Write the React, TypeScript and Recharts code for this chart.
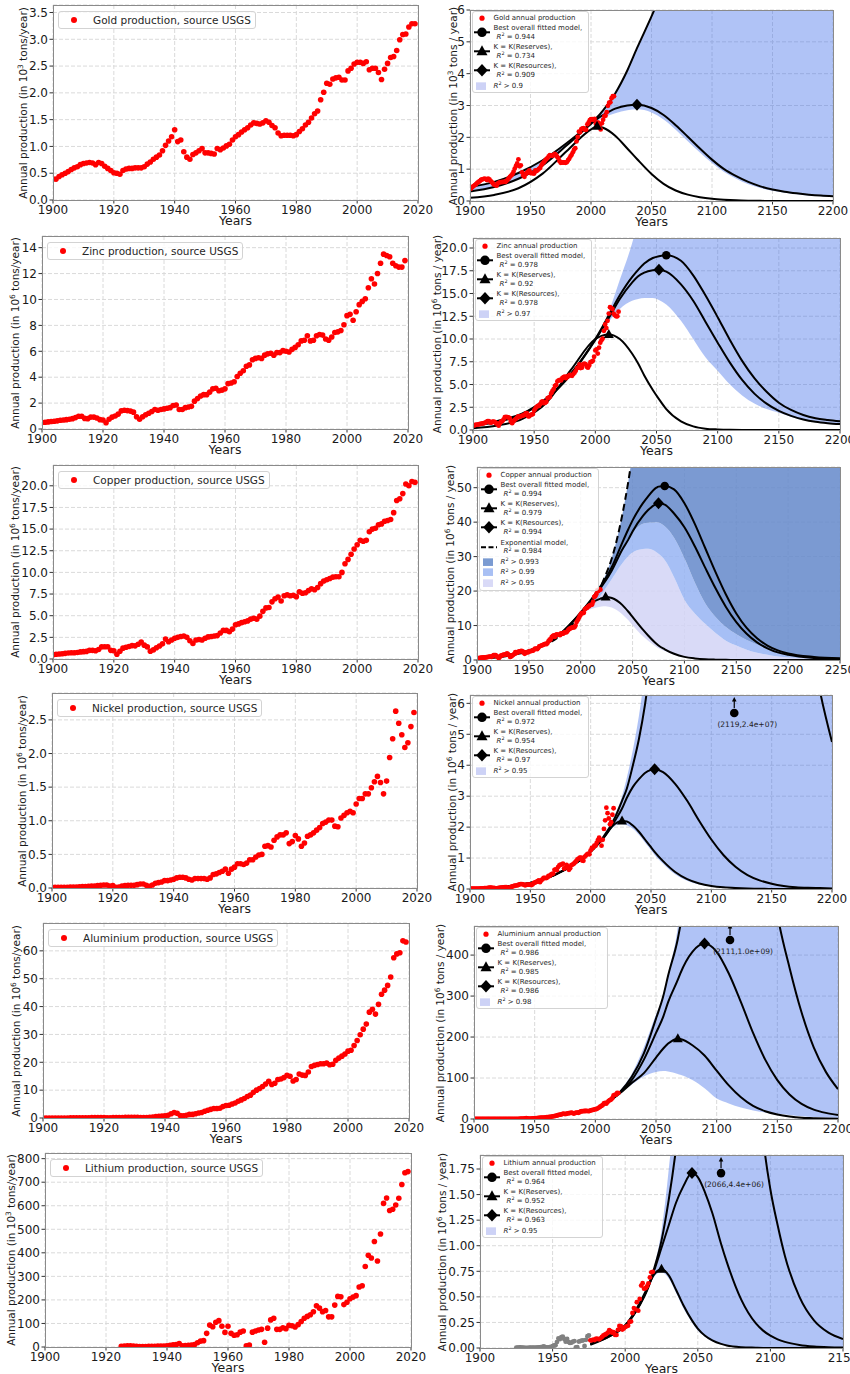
import React from "react";
import { ComposedChart, Scatter, Line, Area, XAxis, YAxis, CartesianGrid } from "recharts";

const FONT = "'DejaVu Sans', sans-serif";
const RED = "#ff0000";
const GREY = "#808080";
const BLUE = "#3a6ae8";

// ---- annual production (USGS) ----
// gold, 1900-2019, 10^3 t
const GOLD = [
  0.39, 0.39, 0.44, 0.47, 0.5, 0.53, 0.57, 0.6, 0.62, 0.66,
  0.68, 0.69, 0.7, 0.69, 0.66, 0.7, 0.68, 0.63, 0.59, 0.55,
  0.51, 0.5, 0.48, 0.55, 0.58, 0.59, 0.59, 0.6, 0.6, 0.6,
  0.62, 0.67, 0.71, 0.76, 0.8, 0.84, 0.92, 1.02, 1.1, 1.18,
  1.31, 1.09, 1.12, 0.9, 0.8, 0.76, 0.85, 0.88, 0.92, 0.96,
  0.88, 0.88, 0.87, 0.86, 0.96, 0.94, 0.97, 1.01, 1.04, 1.12,
  1.18, 1.22, 1.27, 1.31, 1.35, 1.4, 1.44, 1.43, 1.42, 1.44,
  1.48, 1.45, 1.39, 1.35, 1.25, 1.2, 1.21, 1.21, 1.21, 1.2,
  1.22, 1.28, 1.33, 1.4, 1.45, 1.53, 1.61, 1.66, 1.87, 2.01,
  2.18, 2.16, 2.26, 2.28, 2.29, 2.24, 2.24, 2.41, 2.46, 2.54,
  2.57, 2.57, 2.55, 2.58, 2.43, 2.46, 2.46, 2.38, 2.25, 2.44,
  2.55, 2.66, 2.68, 2.79, 2.99, 3.09, 3.1, 3.23, 3.29, 3.29,
];
// zinc, 1900-2019, 10^6 t
const ZINC = [
  0.5, 0.52, 0.55, 0.58, 0.6, 0.63, 0.67, 0.7, 0.72, 0.75,
  0.8, 0.88, 0.98, 0.98, 0.82, 0.8, 0.92, 0.92, 0.85, 0.72,
  0.7, 0.48, 0.75, 0.92, 1.0, 1.15, 1.4, 1.45, 1.42, 1.38,
  1.3, 0.95, 0.75, 0.95, 1.1, 1.22, 1.35, 1.5, 1.45, 1.5,
  1.55, 1.6, 1.65, 1.82, 1.85, 1.5, 1.5, 1.65, 1.7, 1.75,
  2.15, 2.35, 2.55, 2.65, 2.65, 2.85, 3.1, 3.15, 2.95, 3.0,
  3.1, 3.5, 3.55, 3.65, 4.05, 4.3, 4.5, 4.85, 4.95, 5.35,
  5.45, 5.5, 5.45, 5.7, 5.8, 5.85, 5.7, 5.9, 5.9, 6.05,
  6.0, 5.95, 6.15, 6.3, 6.5, 6.8, 6.85, 7.2, 6.8, 6.85,
  7.2, 7.3, 7.25, 6.95, 6.85, 7.1, 7.45, 7.5, 7.6, 8.05,
  8.75, 8.85, 8.4, 9.05, 9.6, 9.85, 10.05, 10.9, 11.6, 11.2,
  12.0, 12.8, 13.5, 13.4, 13.3, 12.8, 12.6, 12.5, 12.5, 13.0,
];
// copper, 1900-2019, 10^6 t
const COPPER = [
  0.5, 0.55, 0.57, 0.6, 0.65, 0.7, 0.72, 0.72, 0.75, 0.82,
  0.85, 0.88, 1.0, 1.0, 0.95, 1.1, 1.4, 1.42, 1.42, 1.0,
  0.95, 0.55, 0.9, 1.25, 1.35, 1.45, 1.55, 1.52, 1.7, 1.95,
  1.6, 1.4, 0.9, 1.05, 1.3, 1.5, 1.75, 2.3, 2.0, 2.2,
  2.4, 2.5, 2.6, 2.65, 2.5, 2.1, 1.8, 2.2, 2.25, 2.2,
  2.4, 2.55, 2.6, 2.65, 2.7, 3.0, 3.3, 3.3, 3.15, 3.45,
  3.95, 4.05, 4.2, 4.3, 4.4, 4.6, 4.7, 4.6, 4.95, 5.5,
  5.9, 5.95, 6.6, 6.95, 7.15, 6.7, 7.3, 7.4, 7.3, 7.35,
  7.2, 7.75, 7.6, 7.65, 7.9, 8.1, 8.0, 8.25, 8.7, 9.0,
  9.15, 9.3, 9.45, 9.5, 9.5, 10.0, 11.0, 11.5, 12.1, 12.7,
  13.2, 13.7, 13.6, 13.7, 14.7, 15.0, 15.1, 15.5, 15.6, 15.9,
  16.0, 16.1, 16.9, 18.3, 18.5, 19.1, 20.2, 20.0, 20.5, 20.4,
];
// nickel, 1900-2019, 10^6 t
const NICKEL = [
  0.01, 0.01, 0.01, 0.01, 0.01, 0.012, 0.014, 0.015, 0.015, 0.017,
  0.02, 0.023, 0.025, 0.03, 0.03, 0.035, 0.04, 0.045, 0.045, 0.03,
  0.035, 0.01, 0.015, 0.03, 0.035, 0.04, 0.04, 0.04, 0.05, 0.06,
  0.06, 0.04, 0.025, 0.045, 0.07, 0.08, 0.09, 0.11, 0.11, 0.12,
  0.13, 0.15, 0.16, 0.16, 0.15, 0.13, 0.12, 0.14, 0.14, 0.14,
  0.14, 0.13, 0.15, 0.2, 0.21, 0.23, 0.25, 0.28, 0.22, 0.28,
  0.31, 0.36, 0.36, 0.35, 0.37, 0.42, 0.42, 0.46, 0.49, 0.5,
  0.62, 0.63, 0.61, 0.71, 0.76, 0.79, 0.79, 0.82, 0.66, 0.69,
  0.78, 0.73, 0.62, 0.67, 0.77, 0.79, 0.82, 0.86, 0.9, 0.96,
  0.98, 1.01, 1.01, 0.92, 0.91, 1.04, 1.08, 1.12, 1.14, 1.12,
  1.25, 1.33, 1.33, 1.4, 1.4, 1.49, 1.58, 1.66, 1.57, 1.4,
  1.59, 1.94, 2.22, 2.63, 2.45, 2.28, 2.09, 2.16, 2.4, 2.61,
];
// aluminium, 1900-2019, 10^6 t
const ALUMINIUM = [
  0.01, 0.01, 0.01, 0.01, 0.01, 0.02, 0.02, 0.02, 0.02, 0.03,
  0.04, 0.05, 0.06, 0.07, 0.07, 0.08, 0.12, 0.14, 0.14, 0.13,
  0.13, 0.08, 0.09, 0.13, 0.16, 0.18, 0.2, 0.21, 0.25, 0.28,
  0.27, 0.22, 0.15, 0.14, 0.17, 0.26, 0.37, 0.49, 0.58, 0.7,
  0.78, 1.0, 1.5, 2.0, 1.7, 0.9, 0.8, 1.0, 1.3, 1.3,
  1.5, 1.8, 2.0, 2.4, 2.8, 3.1, 3.4, 3.4, 3.5, 4.1,
  4.5, 4.6, 5.0, 5.4, 6.0, 6.5, 7.0, 7.7, 8.2, 9.2,
  10.0, 10.6, 11.3, 12.2, 13.2, 12.0, 12.5, 13.8, 14.0, 14.5,
  15.3, 15.0, 13.3, 13.8, 15.8, 15.4, 15.3, 16.5, 18.5, 18.9,
  19.2, 19.5, 19.5, 19.7, 19.1, 19.3, 20.7, 21.5, 22.2, 23.0,
  24.0, 24.3, 26.0, 27.8, 29.9, 31.9, 33.7, 38.0, 39.0, 37.3,
  40.8, 44.4, 45.9, 47.6, 50.6, 57.5, 58.9, 59.3, 63.6, 63.2,
];
// lithium, 1925-2019, 10^3 t
const LITHIUM_FROM = 1925;
const LITHIUM = [
  3, 4, 5, 5, 4,
  3, 2, 2, 2, 3, 3, 3, 4, 4, 4,
  5, 7, 9, 10, 15, 5, 6, 7, 8, 10,
  18, 25, 27, 58, 93, 86, 105, 112, 88, 62,
  88, 58, 50, 52, 63, 68, 5, 8, 63, 68,
  72, 75, 20, 80, 115, 122, 75, 75, 82, 78,
  92, 90, 85, 95, 108, 122, 130, 137, 150, 175,
  165, 150, 155, 128, 128, 178, 215, 213, 180, 190,
  205, 212, 218, 255, 260, 342, 390, 378, 448, 365,
  480, 610, 633, 580, 585, 603, 632, 690, 740, 745,
];
const LITHIUM_GREY_UNTIL = 1975;

// ---- fitted models ----
const GOLD_FIT_YEARS = [1900, 1920, 1940, 1960, 1980, 2000, 2005, 2010, 2020, 2030, 2038, 2050, 2060, 2070, 2080, 2090, 2100, 2110, 2120, 2130, 2140, 2150, 2160, 2170, 2180, 2190, 2200];
const GOLD_BEST = [0.44, 0.6, 0.88, 1.28, 1.82, 2.45, 2.63, 2.85, 3.38, 4.1, 4.8, 5.8, 6.7, 7.7, 8.7, null, null, null, null, null, null, null, null, null, null, null, null];
const GOLD_RESOURCES = [0.3, 0.44, 0.7, 1.12, 1.75, 2.42, 2.58, 2.7, 2.9, 3.0, 3.02, 2.92, 2.7, 2.38, 2.02, 1.65, 1.3, 1.0, 0.78, 0.6, 0.46, 0.36, 0.29, 0.24, 0.2, 0.17, 0.15];
const GOLD_RESERVES = [0.1, 0.19, 0.4, 0.86, 1.57, 2.25, 2.35, 2.3, 2.05, 1.65, 1.32, 0.85, 0.54, 0.33, 0.2, 0.12, 0.07, 0.04, 0.02, 0.01, 0.005, 0, 0, 0, 0, 0, 0];
const GOLD_BAND_LOW = [0.3, 0.44, 0.7, 1.12, 1.75, 2.4, 2.52, 2.62, 2.76, 2.85, 2.88, 2.78, 2.56, 2.24, 1.88, 1.52, 1.19, 0.91, 0.7, 0.53, 0.41, 0.32, 0.26, 0.21, 0.17, 0.15, 0.13];
const GOLD_BAND_HIGH = [0.44, 0.6, 0.88, 1.28, 1.82, 2.45, 2.63, 2.85, 3.38, 4.1, 4.8, 5.8, 6.7, 7.7, 8.7, 20, 20, 20, 20, 20, 20, 20, 20, 20, 20, 20, 20];

const ZINC_FIT_YEARS = [1900, 1920, 1940, 1960, 1980, 2000, 2011, 2020, 2030, 2035, 2040, 2047, 2052, 2058, 2070, 2080, 2090, 2100, 2110, 2120, 2130, 2140, 2150, 2160, 2170, 2180, 2190, 2200];
const ZINC_BEST = [0.5, 1.0, 1.8, 3.5, 6.2, 10.0, 12.6, 14.8, 16.8, 17.6, 18.3, 18.9, 19.1, 19.2, 18.6, 17.0, 14.8, 12.4, 9.9, 7.6, 5.7, 4.2, 3.0, 2.2, 1.65, 1.3, 1.1, 0.95];
const ZINC_RESOURCES = [0.45, 0.9, 1.7, 3.4, 6.1, 9.9, 12.3, 14.4, 16.2, 16.9, 17.3, 17.55, 17.6, 17.4, 16.0, 14.2, 11.9, 9.6, 7.4, 5.5, 4.0, 2.9, 2.1, 1.55, 1.15, 0.9, 0.75, 0.65];
const ZINC_RESERVES = [0.2, 0.5, 1.2, 3.0, 6.6, 10.0, 10.5, 10.0, 8.4, 7.3, 6.0, 4.4, 3.4, 2.3, 0.95, 0.4, 0.15, 0.06, 0.02, 0.01, 0, 0, 0, 0, 0, 0, 0, 0];
const ZINC_BAND_LOW = [0.45, 0.9, 1.7, 3.4, 6.1, 9.8, 11.9, 13.3, 14.2, 14.4, 14.5, 14.5, 14.3, 13.8, 12.0, 10.0, 8.0, 6.5, 5.0, 3.8, 2.9, 2.3, 1.9, 1.45, 1.1, 0.85, 0.7, 0.6];
const ZINC_BAND_HIGH = [0.5, 1.0, 1.8, 3.5, 6.2, 10.0, 13.0, 16.5, 20.5, 23, 26, 40, 40, 40, 40, 40, 40, 40, 40, 40, 40, 40, 40, 40, 40, 40, 40, 40];

const COPPER_FIT_YEARS = [1900, 1920, 1940, 1960, 1980, 2000, 2010, 2020, 2024, 2030, 2040, 2046, 2050, 2060, 2065, 2073, 2075, 2081, 2090, 2100, 2110, 2120, 2130, 2140, 2150, 2160, 2170, 2180, 2190, 2200, 2225, 2250];
const COPPER_EXPO = [0.45, 0.95, 1.9, 3.7, 7.0, 13.0, 16.8, 21.8, 24.6, 29.5, 42, 52, 60, 85, null, null, null, null, null, null, null, null, null, null, null, null, null, null, null, null, null, null];
const COPPER_BEST = [0.5, 1.0, 2.0, 3.8, 7.5, 13.8, 17.5, 21.8, 23.7, 27, 34, 38, 40.5, 45.5, 47.5, 50, 50.3, 50.5, 49.5, 45.5, 39.5, 32.5, 25.5, 19, 13.5, 9.3, 6.3, 4.2, 2.8, 1.9, 0.9, 0.5];
const COPPER_RESOURCES = [0.5, 1.0, 2.0, 3.8, 7.5, 13.6, 17.2, 21.3, 23.0, 26, 32, 35, 37.3, 41.8, 43.5, 45.3, 45.5, 45.1, 42.5, 38.5, 33, 26.8, 20.8, 15.4, 11, 7.6, 5.1, 3.4, 2.2, 1.5, 0.6, 0.3];
const COPPER_RESERVES = [0.3, 0.8, 1.8, 3.6, 7.5, 13.5, 16.5, 17.9, 18.3, 18.0, 16.0, 14.0, 12.5, 8.8, 7.1, 4.7, 4.2, 3.1, 1.8, 0.9, 0.45, 0.2, 0.1, 0.05, 0.02, 0, 0, 0, 0, 0, 0, 0];
const COPPER_LOW_95 = [0.5, 1.0, 2.0, 3.8, 7.5, 13.3, 14.8, 15.5, 15.6, 15.2, 13.3, 11.5, 10.1, 6.9, 5.6, 3.8, 3.4, 2.6, 1.5, 0.75, 0.35, 0.15, 0.06, 0.02, 0.01, 0, 0, 0, 0, 0, 0, 0];
const COPPER_LOW_99 = [0.5, 1.0, 2.0, 3.8, 7.5, 13.5, 15.5, 19, 20.8, 23.5, 28, 30.2, 31.2, 32.2, 32.3, 31.3, 30.8, 29, 24, 17.5, 13.5, 10.5, 7.8, 5.6, 4.2, 3.0, 2.1, 1.5, 1.0, 0.7, 0.3, 0.15];
const COPPER_LOW_993 = [0.5, 1.0, 2.0, 3.8, 7.5, 13.6, 16.2, 20.5, 22.5, 26, 32, 35.3, 37, 39.5, 39.8, 40, 39.9, 38.8, 35.5, 29.5, 22.5, 16.5, 12.5, 9.6, 7.5, 5.8, 4.5, 3.2, 2.1, 1.4, 0.55, 0.28];
const COPPER_HIGH = [0.5, 1.0, 2.0, 3.8, 7.5, 13.8, 17.5, 22, 24.7, 29.7, 42, 52, 60, 85, 100, 100, 100, 100, 100, 100, 100, 100, 100, 100, 100, 100, 100, 100, 100, 100, 100, 100];

const NICKEL_FIT_YEARS = [1900, 1920, 1940, 1960, 1980, 1990, 2000, 2010, 2020, 2026, 2030, 2035, 2040, 2045, 2050, 2053, 2060, 2070, 2080, 2090, 2100, 2110, 2120, 2130, 2140, 2150, 2160, 2170, 2180, 2190, 2200];
const NICKEL_BEST = [0.02, 0.05, 0.12, 0.3, 0.65, 0.9, 1.22, 1.65, 2.3, 2.85, 3.25, 4.0, 4.85, 5.95, 7.4, 8.2, 10.5, 14.5, 18, 21, 23, 23.8, 23.7, 22, 19.5, 17, 14, 11, 8.6, 6.4, 4.75];
const NICKEL_RESOURCES = [0.02, 0.05, 0.13, 0.3, 0.65, 0.9, 1.22, 1.62, 2.2, 2.6, 2.95, 3.3, 3.55, 3.75, 3.85, 3.87, 3.78, 3.4, 2.85, 2.2, 1.6, 1.1, 0.72, 0.45, 0.28, 0.17, 0.1, 0.06, 0.04, 0.03, 0.02];
const NICKEL_RESERVES = [0.02, 0.05, 0.13, 0.3, 0.65, 0.9, 1.2, 1.62, 2.1, 2.2, 2.18, 2.05, 1.85, 1.6, 1.35, 1.2, 0.9, 0.55, 0.32, 0.18, 0.1, 0.055, 0.03, 0.015, 0.01, 0, 0, 0, 0, 0, 0];
const NICKEL_BAND_LOW = [0.02, 0.05, 0.12, 0.3, 0.64, 0.88, 1.2, 1.6, 2.04, 2.1, 2.06, 1.95, 1.75, 1.5, 1.25, 1.1, 0.82, 0.48, 0.27, 0.15, 0.085, 0.045, 0.025, 0.012, 0.008, 0.005, 0, 0, 0, 0, 0];
const NICKEL_BAND_HIGH = [0.02, 0.05, 0.13, 0.3, 0.66, 0.92, 1.25, 1.7, 2.4, 3.0, 3.6, 4.5, 5.6, 7.0, 8.5, 30, 30, 30, 30, 30, 30, 30, 30, 30, 30, 30, 30, 30, 30, 30, 30];

const ALUMINIUM_FIT_YEARS = [1900, 1920, 1940, 1960, 1980, 2000, 2010, 2020, 2030, 2040, 2050, 2056, 2060, 2068, 2070, 2080, 2090, 2100, 2110, 2120, 2130, 2140, 2150, 2160, 2170, 2180, 2190, 2200];
const ALUMINIUM_BEST = [0.3, 0.5, 1, 4, 15, 25, 40, 65, 103, 160, 245, 300, 350, 440, 471, 640, 820, 950, 1000, 960, 860, 710, 500, 370, 260, 175, 115, 73];
const ALUMINIUM_RESOURCES = [0.3, 0.5, 1, 4, 15, 25, 40, 65, 95, 145, 210, 250, 285, 340, 355, 408, 428, 408, 355, 285, 210, 145, 95, 60, 37, 23, 15, 10];
const ALUMINIUM_RESERVES = [0.3, 0.5, 1, 4, 15, 25, 40, 62, 88, 112, 150, 172, 184, 196, 195, 180, 155, 118, 82, 53, 32, 19, 11, 6, 3, 2, 1, 0.5];
const ALUMINIUM_BAND_LOW = [0.3, 0.5, 1, 4, 15, 24, 38, 62, 84, 104, 115, 117, 116, 110, 108, 95, 75, 50, 38, 28, 21, 16, 13, 10, 7, 5, 3.5, 2.5];
const ALUMINIUM_BAND_HIGH = [0.3, 0.5, 1, 4, 15, 25, 41, 68, 110, 175, 255, 300, 355, 470, 520, 1500, 1500, 1500, 1500, 1500, 1500, 1500, 1500, 1500, 1500, 1500, 1500, 1500];

const LITHIUM_FIT_YEARS = [1976, 1990, 2000, 2010, 2015, 2020, 2025, 2030, 2035, 2040, 2046, 2050, 2055, 2060, 2066, 2070, 2080, 2090, 2095, 2100, 2105, 2110, 2120, 2130, 2140, 2150];
const LITHIUM_BEST = [0.04, 0.13, 0.22, 0.42, 0.57, 0.78, 1.05, 1.45, 1.95, 2.6, 3.3, 3.7, 4.1, 4.35, 4.4, 4.35, 3.8, 2.9, 2.05, 1.55, 1.2, 0.9, 0.5, 0.27, 0.15, 0.088];
const LITHIUM_RESOURCES = [0.04, 0.12, 0.22, 0.42, 0.56, 0.76, 0.98, 1.2, 1.42, 1.58, 1.71, 1.67, 1.52, 1.32, 1.02, 0.84, 0.47, 0.24, 0.17, 0.12, 0.085, 0.06, 0.03, 0.015, 0.008, 0.005];
const LITHIUM_RESERVES = [0.03, 0.12, 0.22, 0.44, 0.58, 0.72, 0.77, 0.71, 0.57, 0.42, 0.27, 0.19, 0.12, 0.075, 0.04, 0.025, 0.008, 0.003, 0.001, 0, 0, 0, 0, 0, 0, 0];
const LITHIUM_BAND_LOW = [0.03, 0.12, 0.21, 0.42, 0.55, 0.7, 0.74, 0.68, 0.54, 0.39, 0.25, 0.17, 0.11, 0.065, 0.035, 0.02, 0.007, 0.002, 0, 0, 0, 0, 0, 0, 0, 0];
const LITHIUM_BAND_HIGH = [0.04, 0.13, 0.23, 0.44, 0.6, 0.8, 1.15, 1.75, 2.6, 5, 5, 5, 5, 5, 5, 5, 5, 5, 5, 5, 5, 5, 5, 5, 5, 5];

// peaks of the models [year, value] and off-scale best-fit notes
const GOLD_PEAKS = { reserves: [2005, 2.35], resources: [2038, 3.02] };
const ZINC_PEAKS = { best: [2058, 19.2], reserves: [2011, 10.5], resources: [2052, 17.6] };
const COPPER_PEAKS = { best: [2081, 50.5], reserves: [2024, 18.3], resources: [2075, 45.5] };
const NICKEL_PEAKS = { reserves: [2026, 2.2], resources: [2053, 3.87] };
const ALUMINIUM_PEAKS = { reserves: [2068, 196], resources: [2090, 428] };
const LITHIUM_PEAKS = { reserves: [2025, 0.77], resources: [2046, 1.71] };
const NICKEL_NOTE = { x: 2119, y: 5.69, label: "(2119,2.4e+07)" };
const ALUMINIUM_NOTE = { x: 2111, y: 437, label: "(2111,1.0e+09)" };
const LITHIUM_NOTE = { x: 2066, y: 1.71, label: "(2066,4.4e+06)" };

// R^2: best, reserves, resources
const GOLD_R2 = ["0.944", "0.734", "0.909"];
const ZINC_R2 = ["0.978", "0.92", "0.978"];
const COPPER_R2 = ["0.994", "0.979", "0.994"];
const COPPER_EXPO_R2 = "0.984";
const NICKEL_R2 = ["0.972", "0.954", "0.97"];
const ALUMINIUM_R2 = ["0.986", "0.985", "0.986"];
const LITHIUM_R2 = ["0.964", "0.952", "0.963"];

const LEFT_X = [1900, 1920, 1940, 1960, 1980, 2000, 2020];
const RIGHT_X = [1900, 1950, 2000, 2050, 2100, 2150, 2200];

type Box = { x0: number; x1: number; y0: number; y1: number };

const toPoints = (values: number[], from: number, div = 1) =>
  values.map((v, i) => ({ x: from + i, y: v / div }));

function buildRows(years: number[], cols: Record<string, (number | null)[]>, bands: Record<string, [(number | null)[], (number | null)[]]>) {
  return years.map((x, i) => {
    const row: any = { x };
    for (const k in cols) if (cols[k][i] != null) row[k] = cols[k][i];
    for (const k in bands) {
      const lo = bands[k][0][i];
      const hi = bands[k][1][i];
      if (lo != null && hi != null) row[k] = [lo, hi];
    }
    return row;
  });
}

const tickStyle = { fontSize: 12, fill: "#1a1a1a", fontFamily: FONT };
const f1 = (v: number) => v.toFixed(1);
const f2 = (v: number) => v.toFixed(2);
const f0 = (v: number) => String(v);
const range = (a: number, b: number, s: number) => {
  const out: number[] = [];
  for (let v = a; v <= b + 1e-9; v += s) out.push(Math.round(v * 100) / 100);
  return out;
};

const dot = (r: number, fill: string) => (p: any) => <circle cx={p.cx} cy={p.cy} r={r} fill={fill} />;

function Glyph({ kind, cx, cy, s = 1 }: { kind: string; cx: number; cy: number; s?: number }) {
  if (kind === "circle") return <circle cx={cx} cy={cy} r={4.3 * s} fill="#000" />;
  if (kind === "triangle")
    return <polygon points={`${cx},${cy - 5.5 * s} ${cx - 5 * s},${cy + 3.5 * s} ${cx + 5 * s},${cy + 3.5 * s}`} fill="#000" />;
  return <polygon points={`${cx},${cy - 6 * s} ${cx + 5.5 * s},${cy} ${cx},${cy + 6 * s} ${cx - 5.5 * s},${cy}`} fill="#000" />;
}

const glyphShape = (kind: string) => (p: any) => <Glyph kind={kind} cx={p.cx} cy={p.cy} />;

const noteShape = (p: any) => (
  <g>
    <line x1={p.cx} y1={p.cy - 5} x2={p.cx} y2={p.cy - 12} stroke="#000" strokeWidth={1.2} />
    <polygon points={`${p.cx},${p.cy - 16} ${p.cx - 2.3},${p.cy - 11.5} ${p.cx + 2.3},${p.cy - 11.5}`} fill="#000" />
    <circle cx={p.cx} cy={p.cy} r={4.3} fill="#000" />
    <text x={p.cx + 13} y={p.cy + 14} textAnchor="middle" fontSize={7.5} fontFamily={FONT} fill="#222">
      {p.payload.label}
    </text>
  </g>
);

const R2 = () => (
  <>
    <i>R</i>
    <span style={{ fontSize: "0.7em", position: "relative", top: "-0.45em" }}>2</span>
  </>
);

function Panel(props: {
  box: Box; xMax: number; xTicks: number[]; yMax: number; yTicks: number[]; yFmt: (v: number) => string;
  rows?: any[]; yLabel: React.ReactNode; labelX: number; legend: React.ReactNode; children: React.ReactNode;
}) {
  const { box } = props;
  const left = box.x0 - 60;
  const top = box.y0 - 10;
  const width = box.x1 - left + 20;
  const height = box.y1 - top + 40;
  return (
    <>
      <div style={{ position: "absolute", left, top }}>
        <ComposedChart width={width} height={height} data={props.rows} margin={{ top: 10, right: 20, bottom: 10, left: 0 }}>
          <CartesianGrid stroke="#dadada" strokeDasharray="4 2" />
          <XAxis type="number" dataKey="x" domain={[1900, props.xMax]} ticks={props.xTicks} interval={0} allowDataOverflow
            height={30} tick={tickStyle} tickSize={3.5} tickMargin={1.5} tickLine={{ stroke: "#333" }} axisLine={false} />
          <YAxis type="number" dataKey="y" domain={[0, props.yMax]} ticks={props.yTicks} interval={0} allowDataOverflow
            width={60} tick={tickStyle} tickSize={3.5} tickMargin={1.5} tickLine={{ stroke: "#333" }} axisLine={false}
            tickFormatter={props.yFmt} />
          {props.children}
        </ComposedChart>
      </div>
      <div style={{ position: "absolute", left: box.x0, top: box.y0, width: box.x1 - box.x0 + 1, height: box.y1 - box.y0 + 1,
        boxSizing: "border-box", border: "1px solid #8a8a8a", pointerEvents: "none" }} />
      <div style={{ position: "absolute", left: (box.x0 + box.x1) / 2, top: box.y1 + 14, transform: "translateX(-50%)",
        fontSize: 12.5, lineHeight: "14px", color: "#1a1a1a" }}>Years</div>
      <div style={{ position: "absolute", left: props.labelX, top: (box.y0 + box.y1) / 2, whiteSpace: "nowrap",
        transform: "translate(-50%, -50%) rotate(-90deg)", fontSize: 10.5, lineHeight: "12px", color: "#1a1a1a" }}>
        {props.yLabel}
      </div>
      {props.legend}
    </>
  );
}

function SourceLegend({ left, top, text }: { left: number; top: number; text: string }) {
  return (
    <div style={{ position: "absolute", left, top, height: 18, boxSizing: "border-box", border: "1px solid #d3d3d3",
      borderRadius: 3, background: "rgba(255,255,255,0.8)", display: "flex", alignItems: "center", paddingRight: 4,
      fontSize: 10.5, color: "#262626", whiteSpace: "nowrap" }}>
      <svg width={34} height={16} style={{ flex: "none" }}><circle cx={15} cy={8} r={3} fill={RED} /></svg>
      <span>{text}</span>
    </div>
  );
}

function SourceChart(p: { box: Box; values: number[]; from: number; yMax: number; yTicks: number[]; yFmt: (v: number) => string;
  exp: number; labelX: number; name: string }) {
  return (
    <Panel box={p.box} xMax={2020} xTicks={LEFT_X} yMax={p.yMax} yTicks={p.yTicks} yFmt={p.yFmt} labelX={p.labelX}
      yLabel={<>Annual production (in 10<sup style={{ fontSize: "0.7em" }}>{p.exp}</sup> tons/year)</>}
      legend={<SourceLegend left={p.box.x0 + 5} top={p.box.y0 + 5.5} text={`${p.name} production, source USGS`} />}>
      <Scatter data={toPoints(p.values, p.from)} isAnimationActive={false} shape={dot(2.8, RED)} />
    </Panel>
  );
}

type LegendRow = { icon: (cy: number) => React.ReactNode; lines: React.ReactNode[] };
const LH = 8.3;

function FitLegend({ left, top, rows }: { left: number; top: number; rows: LegendRow[] }) {
  return (
    <div style={{ position: "absolute", left, top, boxSizing: "border-box", border: "1px solid #d3d3d3", borderRadius: 3,
      background: "rgba(255,255,255,0.8)", padding: "1.5px 6px 2.5px 0", fontSize: 7, lineHeight: `${LH}px`,
      color: "#262626", whiteSpace: "nowrap" }}>
      {rows.map((r, i) => (
        <div key={i} style={{ display: "flex", alignItems: "center", marginTop: i ? 2.5 : 0 }}>
          <svg width={21} height={r.lines.length * LH} style={{ flex: "none", overflow: "visible" }}>
            {r.icon((r.lines.length * LH) / 2)}
          </svg>
          <div>
            {r.lines.map((l, j) => (
              <div key={j} style={{ paddingLeft: j ? 3 : 0 }}>{l}</div>
            ))}
          </div>
        </div>
      ))}
    </div>
  );
}

const lineIcon = (kind: string | null, dashed = false) => (cy: number) => (
  <>
    <line x1={1} x2={17} y1={cy} y2={cy} stroke="#000" strokeWidth={2} strokeDasharray={dashed ? "5 2.5" : undefined} />
    {kind && <Glyph kind={kind} cx={9} cy={cy} s={kind === "diamond" ? 1.05 : 1.1} />}
  </>
);
const patchIcon = (fill: string) => (cy: number) => <rect x={3} y={cy - 3.8} width={10} height={7.6} fill={fill} />;

type BandSpec = { key: string; fill: string; opacity: number; patch: string; label: string };

function FitChart(p: {
  box: Box; xMax: number; xTicks: number[]; yMax: number; yTicks: number[]; yFmt: (v: number) => string; exp: number;
  labelX: number; name: string; rows: any[]; points: { x: number; y: number }[]; grey?: { x: number; y: number }[];
  bands: BandSpec[]; expo?: string; peaks: { best?: number[]; reserves: number[]; resources: number[] };
  note?: { x: number; y: number; label: string }; r2: string[];
}) {
  const kids: React.ReactNode[] = [];
  p.bands.forEach((b) =>
    kids.push(
      <Area key={b.key} type="monotone" dataKey={b.key} fill={b.fill} fillOpacity={b.opacity} stroke="none"
        dot={false} activeDot={false} isAnimationActive={false} />
    )
  );
  if (p.expo)
    kids.push(
      <Line key="expo" type="monotone" dataKey="expo" stroke="#000" strokeWidth={2} strokeDasharray="7 4" dot={false}
        activeDot={false} isAnimationActive={false} />
    );
  ["reserves", "resources", "best"].forEach((k) =>
    kids.push(
      <Line key={k} type="monotone" dataKey={k} stroke="#000" strokeWidth={2} dot={false} activeDot={false}
        isAnimationActive={false} />
    )
  );
  if (p.grey) kids.push(<Scatter key="grey" data={p.grey} isAnimationActive={false} shape={dot(2.4, GREY)} />);
  kids.push(<Scatter key="pts" data={p.points} isAnimationActive={false} shape={dot(2.4, RED)} />);
  const marks: [string, number[] | undefined][] = [
    ["triangle", p.peaks.reserves],
    ["diamond", p.peaks.resources],
    ["circle", p.peaks.best],
  ];
  marks.forEach(([kind, pk]) => {
    if (pk) kids.push(<Scatter key={kind} data={[{ x: pk[0], y: pk[1] }]} isAnimationActive={false} shape={glyphShape(kind)} />);
  });
  if (p.note) kids.push(<Scatter key="note" data={[p.note]} isAnimationActive={false} shape={noteShape} />);

  const rows: LegendRow[] = [
    { icon: (cy) => <circle cx={9} cy={cy} r={2.6} fill={RED} />, lines: [`${p.name} annual production`] },
    { icon: lineIcon("circle"), lines: ["Best overall fitted model,", <><R2 /> = {p.r2[0]}</>] },
    { icon: lineIcon("triangle"), lines: ["K = K(Reserves),", <><R2 /> = {p.r2[1]}</>] },
    { icon: lineIcon("diamond"), lines: ["K = K(Resources),", <><R2 /> = {p.r2[2]}</>] },
  ];
  if (p.expo) rows.push({ icon: lineIcon(null, true), lines: ["Exponential model,", <><R2 /> = {p.expo}</>] });
  [...p.bands].reverse().forEach((b) => rows.push({ icon: patchIcon(b.patch), lines: [<><R2 /> &gt; {b.label}</>] }));

  return (
    <Panel box={p.box} xMax={p.xMax} xTicks={p.xTicks} yMax={p.yMax} yTicks={p.yTicks} yFmt={p.yFmt} rows={p.rows}
      labelX={p.labelX}
      yLabel={<>Annual production (in 10<sup style={{ fontSize: "0.7em" }}>{p.exp}</sup> tons / year)</>}
      legend={<FitLegend left={p.box.x0 + 1.5} top={p.box.y0 + 1} rows={rows} />}>
      {kids}
    </Panel>
  );
}

const singleBand = (label: string): BandSpec[] => [
  { key: "band", fill: BLUE, opacity: 0.4, patch: "#cdd2f6", label },
];

export default function App() {
  const goldRows = buildRows(GOLD_FIT_YEARS, { best: GOLD_BEST, resources: GOLD_RESOURCES, reserves: GOLD_RESERVES },
    { band: [GOLD_BAND_LOW, GOLD_BAND_HIGH] });
  const zincRows = buildRows(ZINC_FIT_YEARS, { best: ZINC_BEST, resources: ZINC_RESOURCES, reserves: ZINC_RESERVES },
    { band: [ZINC_BAND_LOW, ZINC_BAND_HIGH] });
  const copperRows = buildRows(COPPER_FIT_YEARS,
    { best: COPPER_BEST, resources: COPPER_RESOURCES, reserves: COPPER_RESERVES, expo: COPPER_EXPO },
    { b95: [COPPER_LOW_95, COPPER_LOW_99], b99: [COPPER_LOW_99, COPPER_LOW_993], b993: [COPPER_LOW_993, COPPER_HIGH] });
  const nickelRows = buildRows(NICKEL_FIT_YEARS, { best: NICKEL_BEST, resources: NICKEL_RESOURCES, reserves: NICKEL_RESERVES },
    { band: [NICKEL_BAND_LOW, NICKEL_BAND_HIGH] });
  const aluRows = buildRows(ALUMINIUM_FIT_YEARS,
    { best: ALUMINIUM_BEST, resources: ALUMINIUM_RESOURCES, reserves: ALUMINIUM_RESERVES },
    { band: [ALUMINIUM_BAND_LOW, ALUMINIUM_BAND_HIGH] });
  const lithRows = buildRows(LITHIUM_FIT_YEARS, { best: LITHIUM_BEST, resources: LITHIUM_RESOURCES, reserves: LITHIUM_RESERVES },
    { band: [LITHIUM_BAND_LOW, LITHIUM_BAND_HIGH] });

  const lithAll = toPoints(LITHIUM, LITHIUM_FROM, 1000);
  const lithGrey = lithAll.filter((d) => d.x <= LITHIUM_GREY_UNTIL);
  const lithRed = lithAll.filter((d) => d.x > LITHIUM_GREY_UNTIL);

  return (
    <div style={{ position: "absolute", left: 0, top: 0, width: 850, height: 1374, background: "#fff", fontFamily: FONT, overflow: "hidden" }}>
      <SourceChart box={{ x0: 53, x1: 418, y0: 5, y1: 200 }} values={GOLD} from={1900} yMax={3.64} yTicks={range(0, 3.5, 0.5)}
        yFmt={f1} exp={3} labelX={22} name="Gold" />
      <SourceChart box={{ x0: 42, x1: 408, y0: 236, y1: 429 }} values={ZINC} from={1900} yMax={14.9} yTicks={range(0, 14, 2)}
        yFmt={f0} exp={6} labelX={14} name="Zinc" />
      <SourceChart box={{ x0: 53, x1: 418, y0: 465, y1: 659 }} values={COPPER} from={1900} yMax={22.4} yTicks={range(0, 20, 2.5)}
        yFmt={f1} exp={6} labelX={14} name="Copper" />
      <SourceChart box={{ x0: 52, x1: 417, y0: 693, y1: 888 }} values={NICKEL} from={1900} yMax={2.9} yTicks={range(0, 2.5, 0.5)}
        yFmt={f1} exp={6} labelX={21} name="Nickel" />
      <SourceChart box={{ x0: 43, x1: 409, y0: 923, y1: 1118 }} values={ALUMINIUM} from={1900} yMax={70} yTicks={range(0, 60, 10)}
        yFmt={f0} exp={6} labelX={15} name="Aluminium" />
      <SourceChart box={{ x0: 45, x1: 411, y0: 1153, y1: 1347 }} values={LITHIUM} from={LITHIUM_FROM} yMax={824}
        yTicks={range(0, 800, 100)} yFmt={f0} exp={3} labelX={10} name="Lithium" />

      <FitChart box={{ x0: 470, x1: 833, y0: 10, y1: 201 }} xMax={2200} xTicks={RIGHT_X} yMax={6} yTicks={range(0, 6, 1)} yFmt={f0}
        exp={3} labelX={452} name="Gold" rows={goldRows} points={toPoints(GOLD, 1900)} bands={singleBand("0.9")}
        peaks={GOLD_PEAKS} r2={GOLD_R2} />
      <FitChart box={{ x0: 473, x1: 840, y0: 238, y1: 430 }} xMax={2200} xTicks={RIGHT_X} yMax={21.1} yTicks={range(0, 20, 2.5)}
        yFmt={f1} exp={6} labelX={436} name="Zinc" rows={zincRows} points={toPoints(ZINC, 1900)} bands={singleBand("0.97")}
        peaks={ZINC_PEAKS} r2={ZINC_R2} />
      <FitChart box={{ x0: 477, x1: 840, y0: 467, y1: 660 }} xMax={2250} xTicks={[...RIGHT_X, 2250]} yMax={56}
        yTicks={range(0, 50, 10)} yFmt={f0} exp={6} labelX={449} name="Copper" rows={copperRows}
        points={toPoints(COPPER, 1900)} expo={COPPER_EXPO_R2} peaks={COPPER_PEAKS} r2={COPPER_R2}
        bands={[
          { key: "b95", fill: "#d2d3f6", opacity: 0.85, patch: "#d9daf7", label: "0.95" },
          { key: "b99", fill: "#96b4f3", opacity: 0.85, patch: "#a9c0f4", label: "0.99" },
          { key: "b993", fill: "#6488ca", opacity: 0.85, patch: "#7b9bd2", label: "0.993" },
        ]} />
      <FitChart box={{ x0: 470, x1: 832, y0: 695, y1: 889 }} xMax={2200} xTicks={RIGHT_X} yMax={6.27} yTicks={range(0, 6, 1)}
        yFmt={f0} exp={6} labelX={451} name="Nickel" rows={nickelRows} points={toPoints(NICKEL, 1900)}
        bands={singleBand("0.95")} peaks={NICKEL_PEAKS} note={NICKEL_NOTE} r2={NICKEL_R2} />
      <FitChart box={{ x0: 474, x1: 838, y0: 926, y1: 1119 }} xMax={2200} xTicks={RIGHT_X} yMax={471} yTicks={range(0, 400, 100)}
        yFmt={f0} exp={6} labelX={439} name="Aluminium" rows={aluRows} points={toPoints(ALUMINIUM, 1900)}
        bands={singleBand("0.98")} peaks={ALUMINIUM_PEAKS} note={ALUMINIUM_NOTE} r2={ALUMINIUM_R2} />
      <FitChart box={{ x0: 480, x1: 843, y0: 1155, y1: 1348 }} xMax={2150} xTicks={RIGHT_X.slice(0, 6)} yMax={1.887}
        yTicks={range(0, 1.75, 0.25)} yFmt={f2} exp={6} labelX={441} name="Lithium" rows={lithRows} points={lithRed}
        grey={lithGrey} bands={singleBand("0.95")} peaks={LITHIUM_PEAKS} note={LITHIUM_NOTE} r2={LITHIUM_R2} />
    </div>
  );
}
